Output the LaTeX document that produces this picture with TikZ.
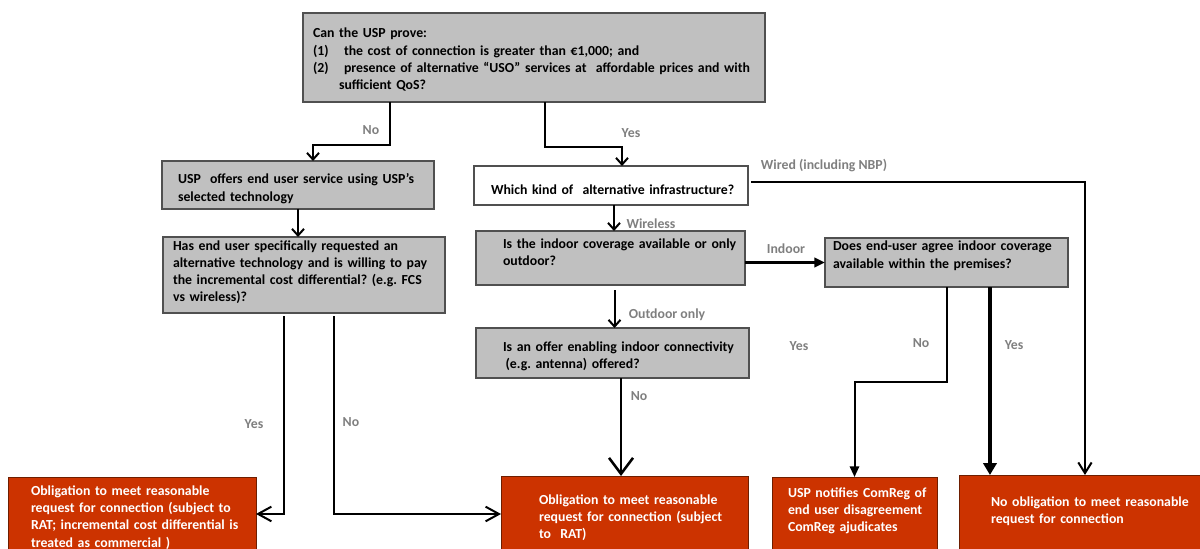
\documentclass[tikz,border=0pt]{standalone}
\usepackage{fontspec}
\setmainfont{Carlito}
\usetikzlibrary{arrows.meta}

\definecolor{boxgray}{RGB}{192,192,192}
\definecolor{edgegray}{RGB}{80,80,80}
\definecolor{rulered}{RGB}{204,51,0}
\definecolor{edgered}{RGB}{110,30,0}
\definecolor{labelgray}{RGB}{127,127,127}

\begin{document}
\frenchspacing
\begin{tikzpicture}[
  x=0.75pt, y=-0.75pt,
  font=\fontsize{10.35pt}{13pt}\selectfont\bfseries,
  lpad/.style={execute at begin node={\setlength{\leftskip}{#1}}},
  qbox/.style={rectangle, draw=edgegray, line width=1pt, fill=boxgray, anchor=north west,
               align=left, inner sep=0pt, outer sep=0pt},
  wbox/.style={qbox, fill=white},
  rbox/.style={qbox, draw=edgered, line width=0.75pt, fill=rulered, text=white},
  lbl/.style={text=labelgray, inner sep=0pt},
  arr/.style={line width=1.5pt, -{Straight Barb[length=5pt,width=9pt]}},
  arrb/.style={line width=1.5pt, -{Straight Barb[length=10pt,width=11pt]}},
  arrbig/.style={line width=1.9pt, -{Straight Barb[length=12pt,width=18pt]}},
  arrf/.style={line width=1.5pt, -{Triangle[length=8pt,width=7pt]}},
  arrfat/.style={line width=3pt, -{Triangle[length=9pt,width=10pt]}}
]
\useasboundingbox (0,0) rectangle (1200,549);
% question boxes
\node[qbox, text width=346.5pt, text height=18.75pt, text depth=48pt, lpad=7.5pt] (q0) at (303,13)
  {Can the USP prove:\\
   \makebox[23.25pt][l]{(1)}the cost of connection is greater than €1,000; and\\
   \makebox[23.25pt][l]{(2)}presence of alternative “USO” services at~~affordable prices and with\\
   \hspace*{19.5pt}sufficient QoS?};
\node[qbox, text width=204pt, text height=17.25pt, text depth=18.75pt, lpad=12pt] (offer) at (162,161)
  {USP~~offers end user service using USP’s\\ selected technology};
\node[qbox, text width=211.5pt, text height=9.75pt, text depth=47.25pt, lpad=7.5pt] (ask) at (163,237)
  {Has end user specifically requested an\\ alternative technology and is willing to pay\\
   the incremental cost differential? (e.g. FCS\\ vs wireless)?};
\node[wbox, text width=205.5pt, text height=21.75pt, text depth=7.5pt, lpad=12.75pt] (kind) at (474,166)
  {Which kind of~~alternative infrastructure?};
\node[qbox, text width=201.75pt, text height=12.75pt, text depth=27.75pt, lpad=20.25pt] (cover) at (476,231)
  {Is the indoor coverage available or only\\ outdoor?};
\node[qbox, text width=204.75pt, text height=17.25pt, text depth=20.25pt, lpad=20.25pt] (antenna) at (476,328)
  {Is an offer enabling indoor connectivity\\ \hspace*{2pt}(e.g. antenna) offered?};
\node[qbox, text width=182.25pt, text height=9.75pt, text depth=27pt, lpad=6pt] (agree) at (825,238)
  {Does end-user agree indoor coverage\\ available within the premises?};
% outcome boxes
\node[rbox, text width=186pt, text height=13.5pt, text depth=48.75pt, lpad=17.25pt] (ratcom) at (8,477)
  {Obligation to meet reasonable\\ request for connection (subject to\\
   RAT; incremental cost differential is\\ treated as commercial )};
\node[rbox, text width=185.25pt, text height=21pt, text depth=42pt, lpad=28.5pt] (rat) at (501,476)
  {Obligation to meet reasonable\\ request for connection (subject\\ to~~RAT)};
\node[rbox, text width=123.75pt, text height=15pt, text depth=47.25pt, lpad=12pt] (notify) at (772,477)
  {USP notifies ComReg of\\ end user disagreement\\ ComReg ajudicates};
\node[rbox, text width=183.75pt, text height=23.25pt, text depth=40.5pt, lpad=24pt] (noob) at (959,475)
  {No obligation to meet reasonable\\ request for connection};
% connectors
\draw[arr] ([xshift=-108pt]q0.south) -- ++(0,43) -| ([xshift=11.25pt]offer.north);
\draw[arr] ([xshift=8.25pt]q0.south) -- ++(0,45) -| ([xshift=8.25pt]kind.north);
\draw[arr] (offer.south) -- (offer.south |- ask.north);
\draw[arr] ([xshift=2.25pt]kind.south) -- ([xshift=2.25pt]kind.south |- cover.north);
\draw[arr] ([shift={(3pt,-4pt)}]cover.south) -- ([xshift=3pt]cover.south |- antenna.north);
\draw[arrf, line width=2.25pt] (cover.east |- agree.west) -- (agree.west);
\draw[arr, -{Straight Barb[length=8pt,width=10pt]}] ([shift={(2.25pt,2.6pt)}]kind.east) -| ([xshift=2.6pt]noob.north);
\draw[arrf] (agree.south) -- ++(0,95) -| (notify.north);
\draw[arrfat] ([xshift=32.6pt]agree.south) -- ([xshift=32.6pt]agree.south |- noob.north);
\draw[arrbig] ([xshift=6.4pt]antenna.south) -- ([xshift=6.4pt]antenna.south |- rat.north);
\draw[arrb] ([shift={(-15pt,-2.25pt)}]ask.south) |- ([yshift=3.4pt]ratcom.east);
\draw[arrb] ([shift={(22.5pt,-2.25pt)}]ask.south) |- ([yshift=3pt]rat.west);
% branch labels
\node[lbl] (lno1)    at (371,130) {No};
\node[lbl] (lyes1)   at (631,133) {Yes};
\node[lbl] (lwless)  at (651,224) {Wireless};
\node[lbl] (lout)    at (667,315) {Outdoor only};
\node[lbl] (lwired)  at (824,166) {Wired (including NBP)};
\node[lbl] (lindoor) at (786,249) {Indoor};
\node[lbl] (lyes2)   at (799,346) {Yes};
\node[lbl] (lno2)    at (921,343) {No};
\node[lbl] (lyes3)   at (1014,345) {Yes};
\node[lbl] (lyes4)   at (254,424) {Yes};
\node[lbl] (lno3)    at (351,422) {No};
\node[lbl] (lno4)    at (639,396) {No};
\end{tikzpicture}
\end{document}
